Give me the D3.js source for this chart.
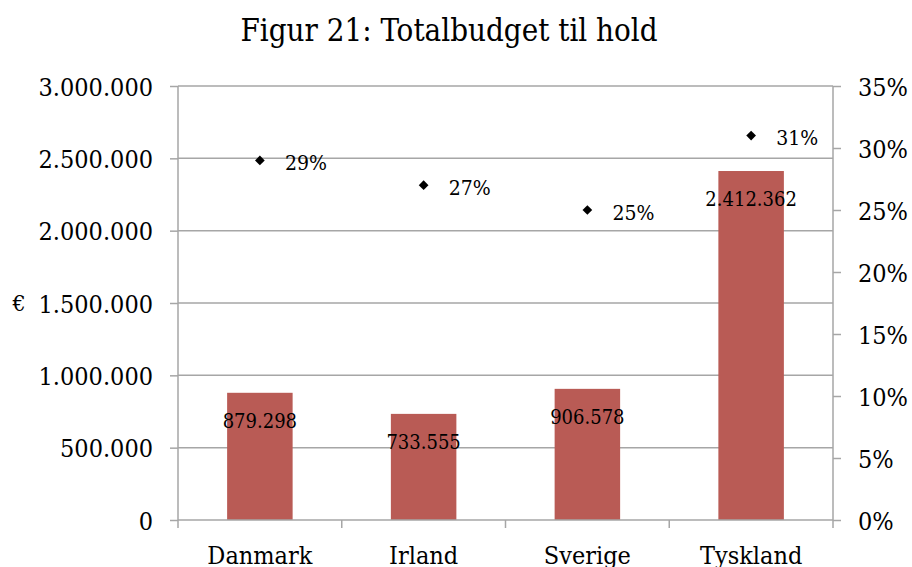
<!DOCTYPE html>
<html>
<head>
<meta charset="utf-8">
<script src="https://cdn.jsdelivr.net/npm/d3@7"></script>
<style>
  body { margin: 0; background: #fff; }
  svg text { font-family: "DejaVu Serif", serif; font-stretch: condensed; fill: #000; }
</style>
</head>
<body>
<svg id="chart" width="912" height="567"></svg>
<script>
// data
var countries = ["Danmark", "Irland", "Sverige", "Tyskland"];
var budget = [879298, 733555, 906578, 2412362];
var share = [0.29, 0.27, 0.25, 0.31];
var leftTicks = [0, 500000, 1000000, 1500000, 2000000, 2500000, 3000000];
var rightTicks = [0, 0.05, 0.10, 0.15, 0.20, 0.25, 0.30, 0.35];

var svg = d3.select("#chart");
var margin = {left: 178, right: 79, top: 86, bottom: 47};
var W = 912, H = 567;
var x0 = margin.left, x1 = W - margin.right;
var y0 = H - margin.bottom, y1 = margin.top;

var fmt = d3.formatLocale({decimal: ",", thousands: ".", grouping: [3], currency: ["", "€"]});
var numFmt = fmt.format(",d");

var x = d3.scaleBand().domain(countries).range([x0, x1]).padding(0);
var y = d3.scaleLinear().domain([0, 3000000]).range([y0, y1]);
var yR = d3.scaleLinear().domain([0, 0.35]).range([y0, y1]);

var grey = "#a6a6a6";

// title
svg.append("text")
    .attr("x", 449).attr("y", 41)
    .attr("text-anchor", "middle")
    .style("font-size", "31px")
    .text("Figur 21: Totalbudget til hold");

// gridlines
svg.append("g").selectAll("line")
    .data(leftTicks.slice(1))
    .join("line")
    .attr("x1", x0).attr("x2", x1)
    .attr("y1", d => y(d)).attr("y2", d => y(d))
    .attr("stroke", grey).attr("stroke-width", 1.5);

// bars
var barW = x.bandwidth() * 0.4;
svg.append("g").selectAll("rect")
    .data(countries)
    .join("rect")
    .attr("x", (d, i) => x(d) + (x.bandwidth() - barW) / 2)
    .attr("y", (d, i) => y(budget[i]))
    .attr("width", barW)
    .attr("height", (d, i) => y0 - y(budget[i]))
    .attr("fill", "#b95b55");

// left axis
var yAxis = d3.axisLeft(y).tickValues(leftTicks).tickSize(8).tickPadding(17)
    .tickFormat(d => numFmt(d));
var gl = svg.append("g").attr("transform", "translate(" + x0 + ",0)").call(yAxis);
gl.select(".domain").attr("stroke", grey).attr("stroke-width", 1.5).attr("d", "M0," + y1 + "V" + y0);
gl.selectAll(".tick line").attr("stroke", grey).attr("stroke-width", 1.5);
gl.selectAll(".tick text").style("font-size", "25px").attr("dy", "0.36em");

// right axis
var yAxisR = d3.axisRight(yR).tickValues(rightTicks).tickSize(8).tickPadding(17)
    .tickFormat(d3.format(".0%"));
var gr = svg.append("g").attr("transform", "translate(" + x1 + ",0)").call(yAxisR);
gr.select(".domain").attr("stroke", grey).attr("stroke-width", 1.5).attr("d", "M0," + y1 + "V" + y0);
gr.selectAll(".tick line").attr("stroke", grey).attr("stroke-width", 1.5);
gr.selectAll(".tick text").style("font-size", "25px").attr("dy", "0.36em");

// bottom axis: baseline + ticks between categories
svg.append("line")
    .attr("x1", x0).attr("x2", x1).attr("y1", y0).attr("y2", y0)
    .attr("stroke", grey).attr("stroke-width", 1.5);
var bounds = countries.map(d => x(d)).concat([x1]);
svg.append("g").selectAll("line")
    .data(bounds)
    .join("line")
    .attr("x1", d => d).attr("x2", d => d)
    .attr("y1", y0).attr("y2", y0 + 8)
    .attr("stroke", grey).attr("stroke-width", 1.5);
svg.append("g").selectAll("text")
    .data(countries)
    .join("text")
    .attr("x", d => x(d) + x.bandwidth() / 2)
    .attr("y", y0 + 44)
    .attr("text-anchor", "middle")
    .style("font-size", "25px")
    .text(d => d);

// bar value labels
svg.append("g").selectAll("text")
    .data(countries)
    .join("text")
    .attr("x", d => x(d) + x.bandwidth() / 2)
    .attr("y", (d, i) => y(budget[i]) + 28)
    .attr("dy", "0.36em")
    .attr("text-anchor", "middle")
    .style("font-size", "20px")
    .text((d, i) => numFmt(budget[i]));

// percentage markers
var diamond = d3.symbol().type(d3.symbolDiamond2).size(60);
svg.append("g").selectAll("path")
    .data(countries)
    .join("path")
    .attr("transform", (d, i) => "translate(" + (x(d) + x.bandwidth() / 2) + "," + yR(share[i]) + ")")
    .attr("d", diamond)
    .attr("fill", "#000");
svg.append("g").selectAll("text")
    .data(countries)
    .join("text")
    .attr("x", d => x(d) + x.bandwidth() / 2 + 25)
    .attr("y", (d, i) => yR(share[i]) + 2)
    .attr("dy", "0.36em")
    .style("font-size", "21px")
    .text((d, i) => d3.format(".0%")(share[i]));

// euro sign
svg.append("text")
    .attr("x", 19).attr("y", 303)
    .attr("dy", "0.36em")
    .attr("text-anchor", "middle")
    .style("font-size", "23px")
    .text("€");
</script>
</body>
</html>
